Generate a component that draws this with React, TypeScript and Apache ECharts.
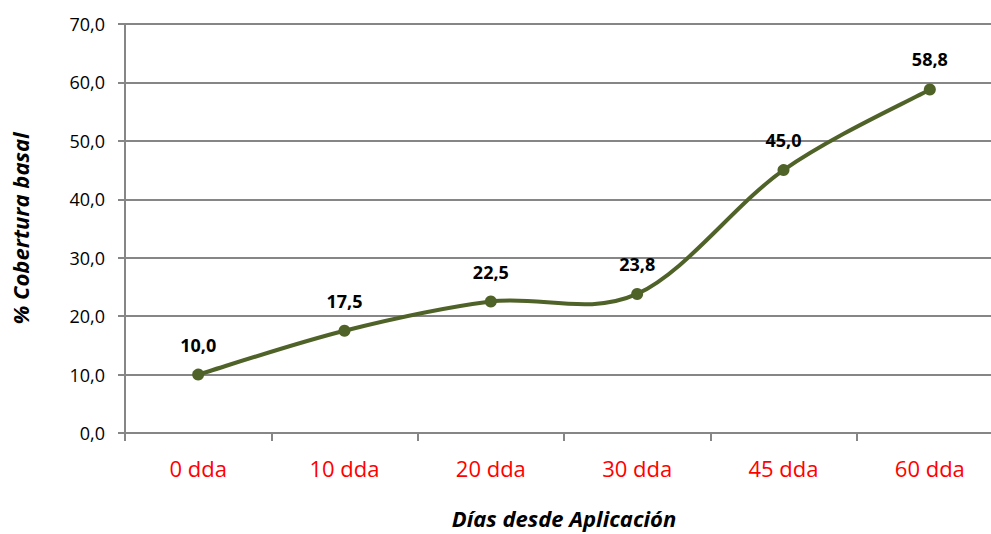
import React, { useEffect, useRef } from "react";
import * as echarts from "echarts";

const categories = ["0 dda", "10 dda", "20 dda", "30 dda", "45 dda", "60 dda"];
const coverage = [10.0, 17.5, 22.5, 23.8, 45.0, 58.8];
const yTicks = { min: 0, max: 70, interval: 10 };

const fmt = (v: number) => v.toFixed(1).replace(".", ",");
const FONT = "'Open Sans', 'Noto Sans', sans-serif";
const LINE_COLOR = "#4F6228";

export default function App() {
  const ref = useRef<HTMLDivElement>(null);
  useEffect(() => {
    if (!ref.current) return;
    const chart = echarts.init(ref.current, null, { renderer: "svg" });
    const n = coverage.length;
    chart.setOption({
      animation: false,
      backgroundColor: "#ffffff",
      grid: { left: 125, right: 0, top: 24, bottom: 101, containLabel: false, outerBoundsMode: "none" },
      xAxis: {
        type: "category",
        data: categories,
        boundaryGap: true,
        name: "Días desde Aplicación",
        nameLocation: "middle",
        nameGap: 74,
        nameTextStyle: { fontFamily: FONT, fontSize: 22, fontWeight: "bold", fontStyle: "italic", color: "#000" },
        axisLine: { lineStyle: { color: "#868686", width: 2 } },
        axisTick: { show: true, length: 8, lineStyle: { color: "#868686", width: 2 } },
        axisLabel: { color: "#FF0000", fontFamily: FONT, fontSize: 22, margin: 24 },
        splitLine: { show: false },
      },
      yAxis: {
        type: "value",
        min: yTicks.min,
        max: yTicks.max,
        interval: yTicks.interval,
        name: "% Cobertura basal",
        nameLocation: "middle",
        nameGap: 94,
        nameRotate: 90,
        nameTextStyle: { fontFamily: FONT, fontSize: 22, fontWeight: "bold", fontStyle: "italic", color: "#000" },
        axisLine: { show: true, lineStyle: { color: "#868686", width: 2 } },
        axisTick: { show: true, length: 7, lineStyle: { color: "#868686", width: 2 } },
        axisLabel: { color: "#000", fontFamily: FONT, fontSize: 18, margin: 20, formatter: (v: number) => fmt(v) },
        splitLine: { show: true, lineStyle: { color: "#868686", width: 2 } },
      },
      series: [
        {
          type: "custom",
          z: 2,
          silent: true,
          data: coverage.map((v, i) => [i, v]),
          renderItem: (params: any, api: any) => {
            const i = params.dataIndex;
            if (i >= n - 1) return null;
            const clampIdx = (j: number) => Math.max(0, Math.min(n - 1, j));
            const pt = (j: number) => api.coord([clampIdx(j), coverage[clampIdx(j)]]);
            const p0 = pt(i - 1);
            const p1 = pt(i);
            const p2 = pt(i + 1);
            const p3 = pt(i + 2);
            const k = 1 / 6;
            return {
              type: "bezierCurve",
              shape: {
                x1: p1[0],
                y1: p1[1],
                cpx1: p1[0] + (p2[0] - p0[0]) * k,
                cpy1: p1[1] + (p2[1] - p0[1]) * k,
                cpx2: p2[0] - (p3[0] - p1[0]) * k,
                cpy2: p2[1] - (p3[1] - p1[1]) * k,
                x2: p2[0],
                y2: p2[1],
              },
              style: { stroke: LINE_COLOR, lineWidth: 4, fill: "none", lineCap: "round" },
            };
          },
        },
        {
          type: "line",
          z: 3,
          data: coverage,
          symbol: "circle",
          symbolSize: 12,
          lineStyle: { width: 0, opacity: 0 },
          itemStyle: { color: LINE_COLOR },
          label: {
            show: true,
            position: "top",
            distance: 15,
            fontFamily: FONT,
            fontSize: 18,
            fontWeight: "bold",
            color: "#000",
            formatter: (p: any) => fmt(p.value),
          },
        },
      ],
    });
    return () => chart.dispose();
  }, []);
  return (
    <div
      ref={ref}
      style={{ position: "fixed", left: 0, top: 0, width: 1003, height: 534, background: "#fff" }}
    />
  );
}
